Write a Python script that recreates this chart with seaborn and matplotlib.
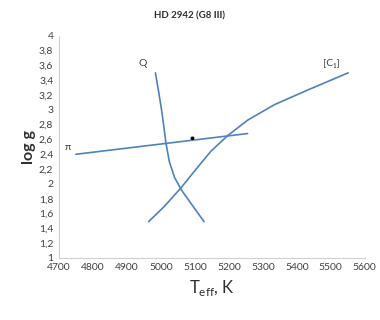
import matplotlib
matplotlib.use("Agg")
import matplotlib.pyplot as plt
import matplotlib.ticker as mticker
import seaborn as sns

# curves
pi_teff = [4750, 5255]
pi_logg = [2.40, 2.68]

q_teff = [4984, 4994, 5002, 5009, 5015, 5025, 5040, 5060, 5088, 5127]
q_logg = [3.50, 3.23, 3.00, 2.77, 2.55, 2.30, 2.09, 1.92, 1.74, 1.49]

c1_teff = [4964, 5009, 5058, 5102, 5147, 5196, 5255, 5334, 5433, 5551]
c1_logg = [1.49, 1.69, 1.94, 2.19, 2.44, 2.65, 2.86, 3.07, 3.27, 3.50]

sol_teff = [5092]
sol_logg = [2.62]

sns.set_theme(style="white")
plt.rcParams['font.family'] = ['Lato', 'DejaVu Sans']
plt.rcParams['mathtext.fontset'] = 'custom'
plt.rcParams['mathtext.rm'] = 'Lato'

fig = plt.figure(figsize=(3.8, 3.2), dpi=100)
ax = fig.add_axes([0.155, 0.194, 0.805, 0.694])

line_col = "#4f81bd"
sns.lineplot(x=pi_teff, y=pi_logg, sort=False, color=line_col, lw=1.2, ax=ax)
sns.lineplot(x=q_teff, y=q_logg, sort=False, color=line_col, lw=1.2, ax=ax)
sns.lineplot(x=c1_teff, y=c1_logg, sort=False, color=line_col, lw=1.2, ax=ax)
sns.scatterplot(x=sol_teff, y=sol_logg, color="black", s=10, ax=ax, zorder=5)

ax.text(4947, 3.63, "Q", fontsize=7.5, color="#404040", ha="center", va="center")
ax.text(5502, 3.63, "[C₁]", fontsize=7.5, color="#404040", ha="center", va="center")
ax.text(4727, 2.49, "π", fontsize=7.5, color="#404040", ha="center", va="center")

ax.set_xlim(4700, 5600)
ax.set_ylim(1, 4)
ax.set_xticks(range(4700, 5601, 100))
ax.set_yticks([1 + 0.2 * i for i in range(16)])
ax.yaxis.set_major_formatter(mticker.FuncFormatter(
    lambda v, p: f"{v:.1f}".rstrip("0").rstrip(".").replace(".", ",")))
ax.tick_params(axis="both", length=0, labelsize=7.5, colors="#404040", pad=4)

for s in ["top", "right"]:
    ax.spines[s].set_visible(False)
for s in ["left", "bottom"]:
    ax.spines[s].set_color("#d0d0d0")
    ax.spines[s].set_linewidth(0.8)

ax.set_xlabel("$\\mathrm{T}_{\\mathrm{eff}}$, K", fontsize=12, color="#303030")
ax.set_ylabel("log g", fontsize=11.5, fontweight="bold", color="#303030", labelpad=2)
fig.suptitle("HD 2942 (G8 III)", fontsize=7, fontweight="bold", color="#303030", y=0.965)

fig.savefig("out.png", dpi=100)
